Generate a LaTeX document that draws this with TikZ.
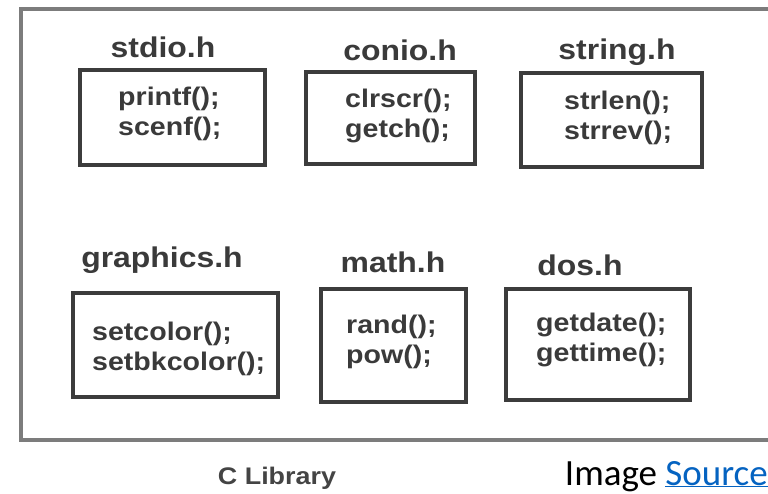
\documentclass[tikz,border=0pt]{standalone}
\usepackage{fontspec}
\setmainfont{Liberation Sans}
\newfontfamily\arialx{Liberation Sans}[FakeStretch=1.12]
\newfontfamily\calib{Carlito}
\definecolor{txt}{HTML}{3A3A3A}
\definecolor{frame}{HTML}{7C7C7C}
\definecolor{boxc}{HTML}{3C3C3C}
\definecolor{lnk}{HTML}{0563C1}
\tikzset{
  hdr/.style={font=\arialx\bfseries\fontsize{28.5}{32}\selectfont, text=txt, inner sep=0pt},
  fnbox/.style={draw=boxc, line width=4pt},
  fntxt/.style={font=\arialx\bfseries\fontsize{25.5}{29.5}\selectfont, text=txt, align=left, anchor=west, inner sep=0pt},
  captxt/.style={font=\arialx\bfseries\fontsize{24}{28}\selectfont, text=txt!95, inner sep=0pt},
}
\begin{document}
\begin{tikzpicture}[x=1pt,y=-1pt]
\clip (0,0) rectangle (768,493);
\fill[white] (0,0) rectangle (768,493);
\draw[frame, line width=3.5pt] (21,9) rectangle (790,440);
% row 1
\node[hdr] (h1) at (163,47) {stdio.h};
\draw[fnbox] (80,70) rectangle (265,165);
\node[fntxt] (t1) at (118,114) {printf();\\scenf();};
\node[hdr] (h2) at (400,50) {conio.h};
\draw[fnbox] (306,72) rectangle (475,164);
\node[fntxt] (t2) at (345,116) {clrscr();\\getch();};
\node[hdr] (h3) at (617,52) {string.h};
\draw[fnbox] (521,73) rectangle (702,167);
\node[fntxt] (t3) at (564,118) {strlen();\\strrev();};
% row 2
\node[hdr] (h4) at (162,260) {graphics.h};
\draw[fnbox] (73,293) rectangle (278,397);
\node[fntxt] (t4) at (92,349) {setcolor();\\setbkcolor();};
\node[hdr] (h5) at (393,262) {math.h};
\draw[fnbox] (321,289) rectangle (466,402);
\node[fntxt] (t5) at (346,342) {rand();\\pow();};
\node[hdr] (h6) at (580,265) {dos.h};
\draw[fnbox] (506,289) rectangle (690,400);
\node[fntxt] (t6) at (536,340) {getdate();\\gettime();};
% captions
\node[captxt] (cl) at (277,478) {C Library};
\node[anchor=base east, inner sep=0pt, font=\calib\fontsize{37}{40}\selectfont] (src) at (768,485) {Image \textcolor{lnk}{\underline{Source}}};
\end{tikzpicture}
\end{document}
